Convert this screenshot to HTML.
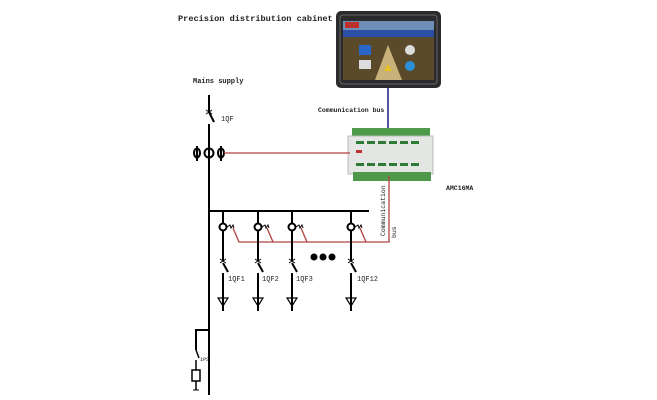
<!DOCTYPE html>
<html><head><style>
body{margin:0;background:#fff;width:657px;height:400px;overflow:hidden}
svg{display:block}
text{font-family:"Liberation Mono",monospace;fill:#222}
</style></head><body>
<svg width="657" height="400" viewBox="0 0 657 400">
<text x="178" y="21" font-size="8.6" font-weight="bold">Precision distribution cabinet</text>
<!-- tablet -->
<rect x="336" y="11" width="105" height="77" rx="5" fill="#2b2b2d"/>
<rect x="340" y="15" width="97" height="69" rx="3" fill="none" stroke="#666" stroke-width="1"/>
<rect x="343" y="21" width="91" height="59" fill="#3a3320"/>
<rect x="343" y="21" width="91" height="9" fill="#6d8fb5"/>
<rect x="343" y="30" width="91" height="7" fill="#2c4fa8"/>
<rect x="345" y="22" width="14" height="6" fill="#c0302a"/>
<rect x="343" y="37" width="91" height="43" fill="#5a4a2a"/>
<polygon points="375,80 388,45 402,80" fill="#c9b27a"/>
<rect x="359" y="45" width="12" height="10" fill="#2a66c8"/>
<rect x="359" y="60" width="12" height="9" fill="#ddd"/>
<circle cx="410" cy="50" r="5" fill="#ddd"/>
<circle cx="410" cy="66" r="5" fill="#2d8fd6"/>
<polygon points="384,71 388,64 392,71" fill="#e8c020"/>
<line x1="388" y1="88" x2="388" y2="130" stroke="#1a1a8a" stroke-width="1.5"/>
<text x="318" y="112" font-size="6.5" font-weight="bold">Communication bus</text>
<!-- module -->
<rect x="352" y="128" width="78" height="10" fill="#4e9a4a"/>
<rect x="348" y="136" width="85" height="38" fill="#e4e6e4" stroke="#bbb"/>
<rect x="353" y="172" width="78" height="9" fill="#4e9a4a"/>
<g fill="#2f7a36">
<rect x="356" y="141" width="8" height="3"/><rect x="367" y="141" width="8" height="3"/><rect x="378" y="141" width="8" height="3"/><rect x="389" y="141" width="8" height="3"/><rect x="400" y="141" width="8" height="3"/><rect x="411" y="141" width="8" height="3"/>
<rect x="356" y="163" width="8" height="3"/><rect x="367" y="163" width="8" height="3"/><rect x="378" y="163" width="8" height="3"/><rect x="389" y="163" width="8" height="3"/><rect x="400" y="163" width="8" height="3"/><rect x="411" y="163" width="8" height="3"/>
</g>
<rect x="356" y="150" width="6" height="3" fill="#c03030"/>
<text x="446" y="190" font-size="6.5" font-weight="bold">AMC16MA</text>
<!-- mains -->
<text x="193" y="83" font-size="7" font-weight="bold">Mains supply</text>
<g stroke="#000" stroke-width="2" fill="none">
<line x1="209" y1="95" x2="209" y2="112"/>
<line x1="209" y1="112" x2="214" y2="122"/>
<line x1="209" y1="124" x2="209" y2="395"/>
<line x1="206" y1="110" x2="212" y2="114" stroke-width="1"/><line x1="212" y1="110" x2="206" y2="114" stroke-width="1"/>
<circle cx="209" cy="153" r="4.5"/>
<ellipse cx="197" cy="153" rx="3" ry="4.5"/><line x1="197" y1="146" x2="197" y2="161"/>
<ellipse cx="221" cy="153" rx="3" ry="4.5"/><line x1="221" y1="146" x2="221" y2="161"/>
</g>
<text x="221" y="121" font-size="7">1QF</text>
<line x1="224" y1="153" x2="350" y2="153" stroke="#b04040" stroke-width="1.3"/>
<!-- busbar -->
<line x1="209" y1="211" x2="369" y2="211" stroke="#000" stroke-width="2"/>
<polyline points="233,228 239,242 273,242 267,228 273,242 307,242 301,228 307,242 366,242 360,228 366,242 389,242 389,176" fill="none" stroke="#b04040" stroke-width="1.3"/>
<text transform="translate(385,236) rotate(-90)" font-size="6.5" font-family="Liberation Serif">Communication</text>
<text transform="translate(396,238) rotate(-90)" font-size="6.5" font-family="Liberation Serif">bus</text>
<g stroke="#000" stroke-width="2" fill="none">
<g id="br">
<line x1="223" y1="211" x2="223" y2="261"/>
<circle cx="223" cy="227" r="3.5" fill="#fff"/>
<line x1="223" y1="263" x2="228" y2="272"/>
<line x1="223" y1="273" x2="223" y2="311"/>
<line x1="220" y1="259" x2="226" y2="263" stroke-width="1"/><line x1="226" y1="259" x2="220" y2="263" stroke-width="1"/>
<polygon points="218,298 228,298 223,306" stroke-width="1.2"/>
<path d="M227,227 l3,-2 l1,3 l2,-3 l1,3" stroke-width="1"/>
</g>
<use href="#br" x="35"/>
<use href="#br" x="69"/>
<use href="#br" x="128"/>
</g>
<g font-size="7" font-family="Liberation Serif">
<text x="228" y="281">1QF1</text><text x="262" y="281">1QF2</text><text x="296" y="281">1QF3</text><text x="357" y="281">1QF12</text>
</g>
<circle cx="314" cy="257" r="3.5" fill="#000"/><circle cx="323" cy="257" r="3.5" fill="#000"/><circle cx="332" cy="257" r="3.5" fill="#000"/>
<!-- SPD branch -->
<g stroke="#000" fill="none">
<polyline points="209,330 196,330 196,350" stroke-width="2"/>
<line x1="196" y1="350" x2="199" y2="358" stroke-width="1.5"/>
<line x1="196" y1="360" x2="196" y2="370" stroke-width="1.5"/>
<rect x="192" y="370" width="8" height="11" stroke-width="1.5"/>
<line x1="196" y1="381" x2="196" y2="390" stroke-width="1.5"/>
<line x1="193" y1="390" x2="199" y2="390" stroke-width="1"/>
</g>
<text x="200" y="361" font-size="5" font-family="Liberation Serif">1PS</text>
</svg>
</body></html>
